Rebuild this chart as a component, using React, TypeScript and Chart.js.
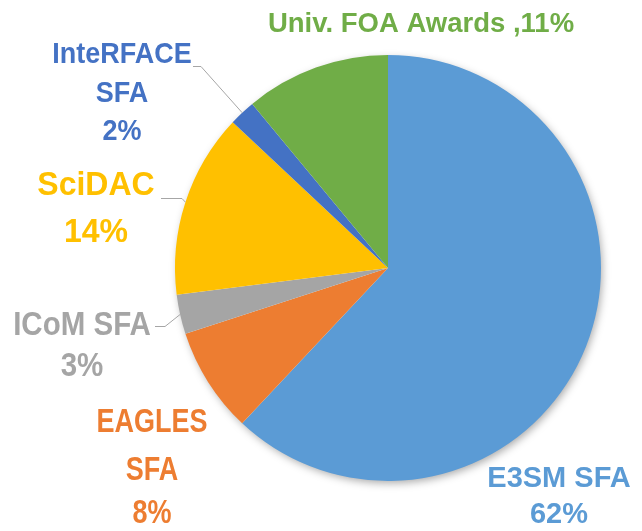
import React, { useEffect, useRef } from "react";
import { Chart, registerables } from "chart.js";

Chart.register(...registerables);

// ---- data ----
const categories = ["E3SM SFA", "EAGLES SFA", "ICoM SFA", "SciDAC", "InteRFACE SFA", "Univ. FOA Awards"];
const shares = [62, 8, 3, 14, 2, 11];
const sliceColors = ["#5B9BD5", "#ED7D31", "#A5A5A5", "#FFC000", "#4472C4", "#70AD47"];
const labelLines = [
  ["E3SM SFA", "62%"],
  ["EAGLES", "SFA", "8%"],
  ["ICoM SFA", "3%"],
  ["SciDAC", "14%"],
  ["InteRFACE", "SFA", "2%"],
  ["Univ. FOA Awards ,11%"],
];

// ---- label layout (text centre x, baselines, font size, vertical stretch, optional leader start) ----
type LabelLayout = {
  x: number;
  baselines: number[];
  size: number;
  sy: number;
  leader?: { x0: number; x1: number; y: number };
};
const labelLayout: LabelLayout[] = [
  { x: 559, baselines: [487, 523], size: 29, sy: 1.04 },
  { x: 152, baselines: [432, 480, 523], size: 27, sy: 1.2 },
  { x: 82, baselines: [335, 376], size: 29.5, sy: 1.1, leader: { x0: 155, x1: 165, y: 326 } },
  { x: 96, baselines: [195, 242], size: 32, sy: 1.02, leader: { x0: 161, x1: 182, y: 198 } },
  { x: 122, baselines: [63, 102, 140], size: 27, sy: 1.12, leader: { x0: 193, x1: 201, y: 66 } },
  { x: 421, baselines: [32], size: 27.5, sy: 1.0 },
];

const shadowPlugin = {
  id: "pieShadow",
  beforeDatasetsDraw(chart: any) {
    const arc = chart.getDatasetMeta(0).data[0];
    if (!arc) return;
    const ctx = chart.ctx;
    ctx.save();
    ctx.shadowColor = "rgba(0,0,0,0.35)";
    ctx.shadowBlur = 9;
    ctx.shadowOffsetX = 2;
    ctx.shadowOffsetY = 3;
    ctx.fillStyle = "#ffffff";
    ctx.beginPath();
    ctx.arc(arc.x, arc.y, arc.outerRadius - 1, 0, Math.PI * 2);
    ctx.fill();
    ctx.restore();
  },
};

const labelPlugin = {
  id: "outLabels",
  afterDatasetsDraw(chart: any) {
    const ctx = chart.ctx;
    const meta = chart.getDatasetMeta(0);
    ctx.save();
    meta.data.forEach((arc: any, i: number) => {
      const lay = labelLayout[i];
      const color = sliceColors[i];
      if (lay.leader) {
        const mid = (arc.startAngle + arc.endAngle) / 2;
        const ex = arc.x + Math.cos(mid) * arc.outerRadius;
        const ey = arc.y + Math.sin(mid) * arc.outerRadius;
        ctx.strokeStyle = "#A6A6A6";
        ctx.lineWidth = 1;
        ctx.beginPath();
        ctx.moveTo(lay.leader.x0, lay.leader.y + 0.5);
        ctx.lineTo(lay.leader.x1, lay.leader.y + 0.5);
        ctx.lineTo(ex, ey);
        ctx.stroke();
      }
      ctx.fillStyle = color;
      ctx.font = `bold ${lay.size}px "Liberation Sans", Arial, sans-serif`;
      ctx.textAlign = "center";
      ctx.textBaseline = "alphabetic";
      labelLines[i].forEach((t, k) => {
        ctx.save();
        ctx.translate(lay.x, lay.baselines[k]);
        ctx.scale(1, lay.sy);
        ctx.fillText(t, 0, 0);
        ctx.restore();
      });
    });
    ctx.restore();
  },
};

export default function App() {
  const ref = useRef<HTMLCanvasElement | null>(null);
  useEffect(() => {
    if (!ref.current) return;
    const chart = new Chart(ref.current, {
      type: "pie",
      data: {
        labels: categories,
        datasets: [
          {
            data: shares,
            backgroundColor: sliceColors,
            borderWidth: 0,
            hoverOffset: 0,
          },
        ],
      },
      options: {
        responsive: false,
        animation: false,
        devicePixelRatio: 1,
        layout: { padding: { left: 175, right: 41, top: 55, bottom: 50 } },
        plugins: {
          legend: { display: false },
          tooltip: { enabled: false },
        },
        events: [],
      },
      plugins: [shadowPlugin, labelPlugin],
    });
    return () => chart.destroy();
  }, []);
  return (
    <div style={{ position: "fixed", left: 0, top: 0, width: 642, height: 531, background: "#ffffff" }}>
      <canvas ref={ref} width={642} height={531} style={{ display: "block" }} />
    </div>
  );
}
